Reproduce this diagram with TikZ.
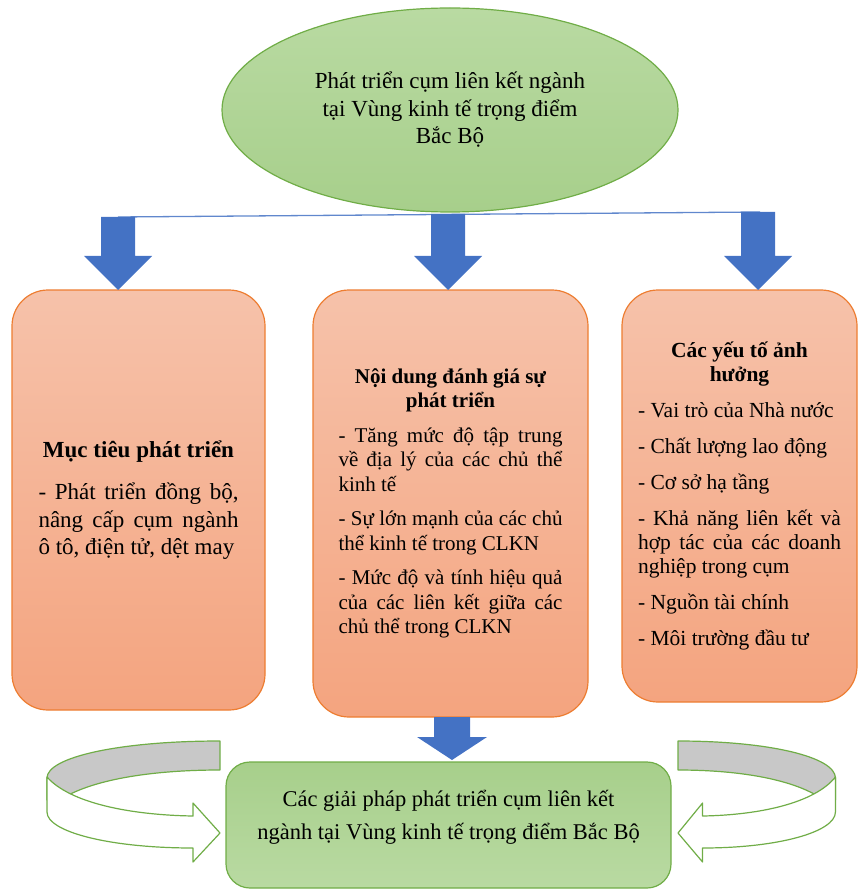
\documentclass[tikz,border=0pt]{standalone}
\usepackage{fontspec}
\setmainfont{Liberation Serif}
\usetikzlibrary{
    shapes.geometric,
    positioning,
    calc
}
\definecolor{leafgreen}{HTML}{70AD47}
\definecolor{palegreen}{HTML}{A7CF8B}
\definecolor{lightgreen}{HTML}{B9DAA2}
\definecolor{rustorange}{HTML}{ED7D31}
\definecolor{peachtop}{HTML}{F6C2AA}
\definecolor{peachbottom}{HTML}{F4A47F}
\definecolor{arrowblue}{HTML}{4472C4}
\definecolor{bandgray}{HTML}{C8C8C8}
\tikzset{
    % Shapes
    cluster ellipse/.style={ellipse,draw=leafgreen,line width=1.2pt,top color=lightgreen,bottom color=palegreen,
        minimum width=456pt,minimum height=204pt,align=center,font=\fontsize{23}{27.5}\selectfont},
    peach box/.style={draw=rustorange,line width=1.2pt,rounded corners=36pt,top color=peachtop,bottom color=peachbottom,
        inner sep=0pt,align=justify},
    plan box/.style={draw=leafgreen,line width=1.2pt,rounded corners=24pt,top color=palegreen,bottom color=lightgreen,
        minimum width=445pt,minimum height=126pt},
    paragraph gap/.style={execute at begin node={\setlength{\parskip}{#1}}},
    %
    % Connectors
    split line/.style={arrowblue!85,line width=1.3pt},
    block arrow/.style={fill=arrowblue},
    turn band/.style={draw=leafgreen,line width=1.2pt,line join=round}
}

\begin{document}
\begin{tikzpicture}[x=1pt,y=-1pt]
    \useasboundingbox (0,0) rectangle (863,890);

    \node[cluster ellipse] (cluster) at (450,110) {Phát triển cụm liên kết ngành\\tại Vùng kinh tế trọng điểm\\Bắc Bộ};

    \coordinate (split left) at (118,217);
    \coordinate (split right) at (760,212);
    \draw[split line] (split left) -- (split right);

    \node[peach box,minimum width=253pt,minimum height=420pt,text width=200pt,paragraph gap=15pt,
        font=\fontsize{23}{27.5}\selectfont] (goal) at (138.5,500)
        {{\centering\bfseries Mục tiêu phát triển\par}
        - Phát triển đồng bộ,\linebreak nâng cấp cụm ngành\linebreak ô tô, điện tử, dệt may};
    \node[peach box,minimum width=275pt,minimum height=427pt,text width=224pt,paragraph gap=10pt,
        font=\fontsize{21}{24.5}\selectfont] (content) at (450.5,503.5)
        {{\centering\bfseries Nội dung đánh giá sự\\phát triển\par}
        - Tăng mức độ tập trung\linebreak về địa lý của các chủ thể\linebreak kinh tế\par
        - Sự lớn mạnh của các chủ\linebreak thể kinh tế trong CLKN\par
        - Mức độ và tính hiệu quả\linebreak của các liên kết giữa các\linebreak chủ thể trong CLKN};
    \node[peach box,minimum width=235pt,minimum height=412pt,text width=203pt,paragraph gap=12pt,
        font=\fontsize{21.5}{24}\selectfont] (factor) at (739.5,496)
        {{\centering\bfseries Các yếu tố ảnh\\hưởng\par}
        - Vai trò của Nhà nước\par
        - Chất lượng lao động\par
        - Cơ sở hạ tầng\par
        - Khả năng liên kết và\linebreak hợp tác của các doanh\linebreak nghiệp trong cụm\par
        - Nguồn tài chính\par
        - Môi trường đầu tư};

    \foreach \x/\y in {118/217,448/214,758/212}
        \fill[block arrow] (\x-17,\y) -- (\x+17,\y) -- (\x+17,256) -- (\x+34,256) -- (\x,290)
            -- (\x-34,256) -- (\x-17,256) -- cycle;

    \node[plan box] (plan) at (448.5,825) {};
    \node[align=center,font=\fontsize{22.5}{33}\selectfont] (plan text) at ($(plan.center)+(0,-8)$)
        {Các giải pháp phát triển cụm liên kết\\ngành tại Vùng kinh tế trọng điểm Bắc Bộ};

    \fill[block arrow] (434,717) -- (470,717) -- (470,737) -- (487,737) -- (452,760)
        -- (417,737) -- (434,737) -- cycle;

    % turning arrows beside the solutions
    \foreach \sx/\sc in {220/1,678/-0.91}{
        \begin{scope}[shift={(\sx,0)},xscale=\sc]
            \filldraw[turn band,fill=bandgray] (0,741) .. controls (-100,741) and (-173,757) .. (-173,778)
                -- (-173,800) -- (-160,800) .. controls (-130,780) and (-70,770) .. (0,770) -- cycle;
            \filldraw[turn band,fill=white] (-173,777) .. controls (-150,803) and (-90,815) .. (-27,816)
                -- (-27,803) -- (0,833) -- (-27,862) -- (-27,848)
                .. controls (-110,848) and (-173,832) .. (-173,812) -- cycle;
        \end{scope}
    }
\end{tikzpicture}
\end{document}
